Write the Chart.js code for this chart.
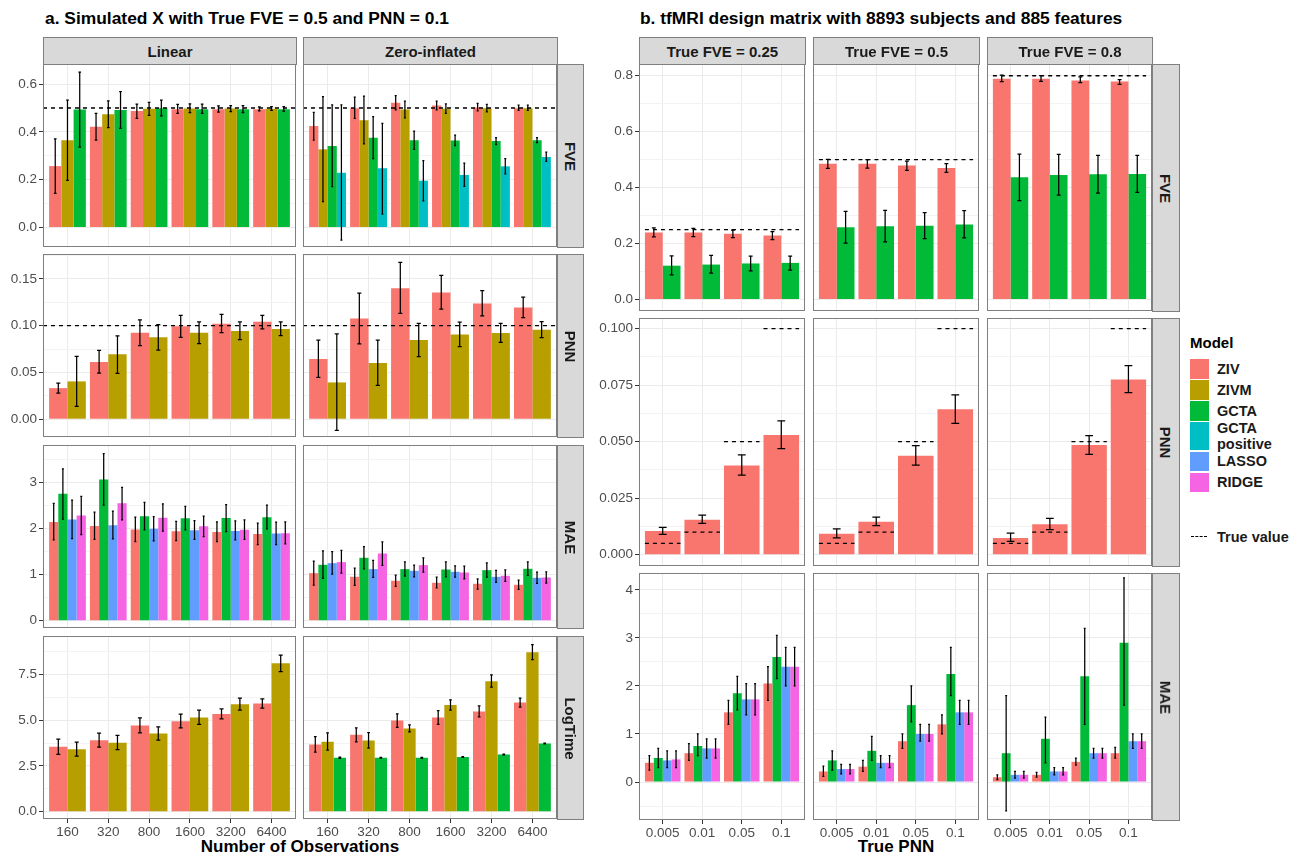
<!DOCTYPE html>
<html>
<head>
<meta charset="utf-8">
<script src="https://cdn.jsdelivr.net/npm/chart.js@4.4.1/dist/chart.umd.min.js"></script>
<style>
body{margin:0;background:#fff;width:1290px;height:856px;position:relative;overflow:hidden;font-family:"Liberation Sans",Arial,Helvetica,sans-serif;}
.abs{position:absolute;white-space:nowrap;}
canvas{position:absolute;}
.strip{position:absolute;background:#d9d9d9;border:1px solid #7f7f7f;box-sizing:border-box;font-weight:bold;font-size:15px;color:#1a1a1a;display:flex;align-items:center;justify-content:center;}
.strip span{white-space:nowrap;}
.rot span{transform:rotate(90deg);}
.title{font-weight:bold;font-size:17.4px;color:#000;}
.axtitle{font-weight:bold;font-size:17px;color:#000;transform:translateX(-50%);}
.key{position:absolute;left:1190px;width:19px;}
.keytxt{position:absolute;left:1217px;font-weight:bold;font-size:14.5px;color:#1a1a1a;line-height:16px;}
</style>
</head>
<body>
<div class="abs title" style="left:45px;top:8px">a. Simulated X with True FVE = 0.5 and PNN = 0.1</div>
<div class="abs title" style="left:640px;top:8px">b. tfMRI design matrix with 8893 subjects and 885 features</div>
<div class="abs axtitle" style="left:300px;top:837px">Number of Observations</div>
<div class="abs axtitle" style="left:896px;top:837px">True PNN</div>
<div id="legend"></div>
<script>
const models = ["ZIV", "ZIVM", "GCTA", "GCTA positive", "LASSO", "RIDGE"];
const modelColors = ["#F8766D", "#B79F00", "#00BA38", "#00BFC4", "#619CFF", "#F564E3"];
const nObs = ["160", "320", "800", "1600", "3200", "6400"];
const truePNN = ["0.005", "0.01", "0.05", "0.1"];
const truePNNvals = [0.005, 0.01, 0.05, 0.1];
const aTrueFVE = 0.5, aTruePNN = 0.1;
const bTrueFVE = [0.25, 0.5, 0.8];
const bFVElabels = ["True FVE = 0.25", "True FVE = 0.5", "True FVE = 0.8"];
const aColLabels = ["Linear", "Zero-inflated"];
const aRowLabels = ["FVE", "PNN", "MAE", "LogTime"];
const bRowLabels = ["FVE", "PNN", "MAE"];

// tick labels (major) per row
const aTicksFVE = [0, 0.2, 0.4, 0.6];
const aTicksPNN = [0, 0.05, 0.10, 0.15];
const aTicksMAE = [0, 1, 2, 3];
const aTicksTime = [0, 2.5, 5, 7.5];
const bTicksFVE = [0, 0.2, 0.4, 0.6, 0.8];
const bTicksPNN = [0, 0.025, 0.05, 0.075, 0.1];
const bTicksMAE = [0, 1, 2, 3, 4];

// each entry: [estimate, lower, upper]
// a. FVE
const linFVE_ZIV  = [[0.257,0.143,0.371],[0.422,0.366,0.478],[0.487,0.457,0.516],[0.495,0.478,0.515],[0.495,0.483,0.509],[0.495,0.488,0.505]];
const linFVE_ZIVM = [[0.365,0.197,0.533],[0.474,0.418,0.530],[0.497,0.469,0.523],[0.498,0.481,0.517],[0.498,0.485,0.510],[0.497,0.490,0.506]];
const linFVE_GCTA = [[0.494,0.336,0.650],[0.492,0.415,0.568],[0.499,0.467,0.533],[0.495,0.478,0.516],[0.495,0.481,0.510],[0.495,0.487,0.506]];
const ziFVE_ZIV   = [[0.425,0.366,0.482],[0.499,0.457,0.545],[0.522,0.492,0.552],[0.510,0.492,0.529],[0.502,0.488,0.519],[0.499,0.490,0.512]];
const ziFVE_ZIVM  = [[0.327,0.108,0.548],[0.449,0.350,0.550],[0.494,0.459,0.529],[0.497,0.478,0.517],[0.499,0.484,0.515],[0.499,0.490,0.512]];
const ziFVE_GCTA  = [[0.341,0.171,0.513],[0.376,0.288,0.464],[0.365,0.327,0.403],[0.364,0.343,0.386],[0.362,0.347,0.376],[0.365,0.355,0.376]];
const ziFVE_GCTAP = [[0.229,-0.053,0.513],[0.248,0.056,0.436],[0.196,0.112,0.280],[0.220,0.172,0.269],[0.256,0.224,0.288],[0.295,0.277,0.315]];
// a. PNN
const linPNN_ZIV  = [[0.0332,0.0279,0.0386],[0.0611,0.0493,0.0736],[0.0925,0.0786,0.106],[0.0993,0.0875,0.111],[0.102,0.0925,0.112],[0.104,0.0964,0.111]];
const linPNN_ZIVM = [[0.0404,0.0136,0.0671],[0.0693,0.0489,0.0889],[0.0875,0.0739,0.101],[0.0925,0.0807,0.104],[0.0943,0.085,0.104],[0.0964,0.0893,0.104]];
const ziPNN_ZIV   = [[0.0643,0.0446,0.0846],[0.1075,0.0804,0.1346],[0.140,0.1132,0.1675],[0.1354,0.1175,0.1536],[0.1236,0.1104,0.1375],[0.1193,0.1086,0.1304]];
const ziPNN_ZIVM  = [[0.0393,-0.0118,0.0911],[0.060,0.0361,0.0846],[0.0846,0.0668,0.1025],[0.0904,0.0775,0.1036],[0.0921,0.0821,0.1025],[0.0957,0.0871,0.1043]];
// a. MAE
const linMAE_ZIV   = [[2.147,1.757,2.55],[2.06,1.77,2.357],[1.98,1.72,2.25],[1.945,1.743,2.16],[1.93,1.72,2.147],[1.887,1.656,2.12]];
const linMAE_GCTA  = [[2.76,2.21,3.30],[3.066,2.509,3.63],[2.27,1.974,2.574],[2.227,1.974,2.487],[2.234,1.938,2.52],[2.249,1.996,2.51]];
const linMAE_LASSO = [[2.20,1.786,2.62],[2.075,1.779,2.38],[1.996,1.735,2.263],[1.967,1.77,2.176],[1.952,1.757,2.17],[1.894,1.656,2.14]];
const linMAE_RIDGE = [[2.285,1.873,2.70],[2.55,2.19,2.90],[2.24,1.945,2.538],[2.053,1.829,2.27],[1.974,1.77,2.19],[1.90,1.67,2.147]];
const ziMAE_ZIV    = [[1.034,0.774,1.294],[0.954,0.766,1.142],[0.868,0.745,0.99],[0.824,0.716,0.947],[0.803,0.687,0.911],[0.781,0.68,0.882]];
const ziMAE_GCTA   = [[1.215,0.918,1.518],[1.367,1.128,1.612],[1.121,0.969,1.28],[1.113,0.954,1.28],[1.099,0.947,1.258],[1.128,0.983,1.28]];
const ziMAE_LASSO  = [[1.251,1.012,1.504],[1.121,0.94,1.309],[1.085,0.954,1.208],[1.063,0.947,1.193],[0.954,0.832,1.092],[0.933,0.81,1.056]];
const ziMAE_RIDGE  = [[1.273,1.034,1.526],[1.461,1.20,1.714],[1.208,1.056,1.367],[1.048,0.911,1.186],[0.976,0.853,1.106],[0.94,0.817,1.063]];
// a. LogTime
const linTime_ZIV  = [[3.55,3.13,3.97],[3.91,3.53,4.30],[4.72,4.31,5.13],[4.95,4.59,5.33],[5.35,5.08,5.63],[5.92,5.66,6.17]];
const linTime_ZIVM = [[3.42,3.04,3.80],[3.77,3.39,4.17],[4.28,3.91,4.64],[5.15,4.77,5.55],[5.88,5.55,6.21],[8.12,7.66,8.57]];
const ziTime_ZIV   = [[3.68,3.26,4.11],[4.21,3.82,4.59],[4.99,4.61,5.35],[5.15,4.77,5.53],[5.48,5.19,5.79],[5.97,5.72,6.21]];
const ziTime_ZIVM  = [[3.82,3.37,4.31],[3.90,3.48,4.33],[4.55,4.37,4.75],[5.83,5.55,6.12],[7.14,6.81,7.48],[8.72,8.32,9.14]];
const ziTime_GCTA  = [[2.95,2.91,2.98],[2.95,2.93,2.97],[2.95,2.93,2.97],[2.99,2.97,3.01],[3.13,3.11,3.15],[3.73,3.71,3.75]];
// b. FVE
const bFVE025_ZIV  = [[0.240,0.224,0.256],[0.240,0.225,0.254],[0.235,0.221,0.248],[0.229,0.214,0.243]];
const bFVE025_GCTA = [[0.121,0.088,0.156],[0.125,0.094,0.158],[0.129,0.102,0.155],[0.131,0.105,0.155]];
const bFVE05_ZIV   = [[0.485,0.469,0.501],[0.485,0.470,0.500],[0.479,0.462,0.495],[0.470,0.455,0.486]];
const bFVE05_GCTA  = [[0.258,0.202,0.315],[0.262,0.206,0.319],[0.264,0.218,0.311],[0.268,0.220,0.318]];
const bFVE08_ZIV   = [[0.789,0.779,0.802],[0.789,0.780,0.800],[0.783,0.775,0.796],[0.779,0.769,0.786]];
const bFVE08_GCTA  = [[0.437,0.354,0.520],[0.445,0.373,0.519],[0.448,0.380,0.515],[0.449,0.383,0.515]];
// b. PNN
const bPNN025_ZIV = [[0.0105,0.009,0.0121],[0.0155,0.0138,0.0175],[0.0395,0.0352,0.0441],[0.053,0.0469,0.0592]];
const bPNN05_ZIV  = [[0.0093,0.0074,0.0114],[0.0146,0.0129,0.0166],[0.0438,0.0396,0.0482],[0.0643,0.0581,0.0707]];
const bPNN08_ZIV  = [[0.0074,0.0059,0.0095],[0.0135,0.0111,0.0161],[0.0485,0.0444,0.0527],[0.0775,0.0717,0.0836]];
// b. MAE
const bMAE025_ZIV   = [[0.40,0.25,0.55],[0.60,0.45,0.80],[1.45,1.20,1.70],[2.05,1.70,2.40]];
const bMAE025_GCTA  = [[0.50,0.30,0.70],[0.75,0.55,1.00],[1.85,1.50,2.20],[2.60,2.15,3.05]];
const bMAE025_LASSO = [[0.45,0.30,0.65],[0.70,0.50,0.90],[1.72,1.40,2.05],[2.40,2.00,2.80]];
const bMAE025_RIDGE = [[0.47,0.30,0.65],[0.70,0.50,0.90],[1.72,1.40,2.05],[2.40,2.00,2.80]];
const bMAE05_ZIV    = [[0.22,0.12,0.33],[0.32,0.22,0.45],[0.85,0.70,1.00],[1.20,1.00,1.40]];
const bMAE05_GCTA   = [[0.45,0.25,0.65],[0.65,0.45,0.95],[1.60,1.25,2.00],[2.25,1.80,2.80]];
const bMAE05_LASSO  = [[0.27,0.17,0.37],[0.40,0.30,0.55],[1.00,0.85,1.20],[1.45,1.20,1.70]];
const bMAE05_RIDGE  = [[0.27,0.17,0.37],[0.40,0.30,0.55],[1.00,0.85,1.20],[1.45,1.20,1.70]];
const bMAE08_ZIV    = [[0.10,0.05,0.15],[0.15,0.10,0.20],[0.42,0.35,0.50],[0.60,0.50,0.72]];
const bMAE08_GCTA   = [[0.60,-0.60,1.80],[0.90,0.40,1.35],[2.20,1.20,3.20],[2.90,1.60,4.25]];
const bMAE08_LASSO  = [[0.15,0.08,0.22],[0.22,0.15,0.30],[0.60,0.50,0.70],[0.85,0.70,1.00]];
const bMAE08_RIDGE  = [[0.15,0.08,0.22],[0.22,0.15,0.30],[0.60,0.50,0.70],[0.85,0.70,1.00]];

const FONT = '"Liberation Sans", Arial, Helvetica, sans-serif';
Chart.defaults.font.family = FONT;

// panel geometry
const aCols = [[43, 296], [303, 557]];
const aRows = [[64, 247], [254, 437], [445, 628], [636, 819]];
const bCols = [[639, 805], [813, 979], [987, 1152]];
const bRows = [[64, 311], [318, 566], [573, 820]];

const aRowAxis = [
  {yMin: -0.0814, yMax: 0.684, major: aTicksFVE, dec: 1},
  {yMin: -0.019, yMax: 0.1765, major: aTicksPNN, dec: 2},
  {yMin: -0.158, yMax: 3.818, major: aTicksMAE, dec: 0},
  {yMin: -0.40, yMax: 9.61, major: aTicksTime, dec: 1}
];
const bRowAxis = [
  {yMin: -0.041, yMax: 0.842, major: bTicksFVE, dec: 1},
  {yMin: -0.005, yMax: 0.1047, major: bTicksPNN, dec: 3},
  {yMin: -0.79, yMax: 4.35, major: bTicksMAE, dec: 0}
];

const aSeries = [
  [[["ZIV", linFVE_ZIV], ["ZIVM", linFVE_ZIVM], ["GCTA", linFVE_GCTA]],
   [["ZIV", ziFVE_ZIV], ["ZIVM", ziFVE_ZIVM], ["GCTA", ziFVE_GCTA], ["GCTA positive", ziFVE_GCTAP]]],
  [[["ZIV", linPNN_ZIV], ["ZIVM", linPNN_ZIVM]],
   [["ZIV", ziPNN_ZIV], ["ZIVM", ziPNN_ZIVM]]],
  [[["ZIV", linMAE_ZIV], ["GCTA", linMAE_GCTA], ["LASSO", linMAE_LASSO], ["RIDGE", linMAE_RIDGE]],
   [["ZIV", ziMAE_ZIV], ["GCTA", ziMAE_GCTA], ["LASSO", ziMAE_LASSO], ["RIDGE", ziMAE_RIDGE]]],
  [[["ZIV", linTime_ZIV], ["ZIVM", linTime_ZIVM]],
   [["ZIV", ziTime_ZIV], ["ZIVM", ziTime_ZIVM], ["GCTA", ziTime_GCTA]]]
];
const bSeries = [
  [[["ZIV", bFVE025_ZIV], ["GCTA", bFVE025_GCTA]], [["ZIV", bFVE05_ZIV], ["GCTA", bFVE05_GCTA]], [["ZIV", bFVE08_ZIV], ["GCTA", bFVE08_GCTA]]],
  [[["ZIV", bPNN025_ZIV]], [["ZIV", bPNN05_ZIV]], [["ZIV", bPNN08_ZIV]]],
  [[["ZIV", bMAE025_ZIV], ["GCTA", bMAE025_GCTA], ["LASSO", bMAE025_LASSO], ["RIDGE", bMAE025_RIDGE]],
   [["ZIV", bMAE05_ZIV], ["GCTA", bMAE05_GCTA], ["LASSO", bMAE05_LASSO], ["RIDGE", bMAE05_RIDGE]],
   [["ZIV", bMAE08_ZIV], ["GCTA", bMAE08_GCTA], ["LASSO", bMAE08_LASSO], ["RIDGE", bMAE08_RIDGE]]]
];

const errorBars = {
  id: 'errorBars',
  afterDatasetsDraw(chart) {
    const ctx = chart.ctx, ys = chart.scales.y, a = chart.chartArea;
    ctx.save();
    ctx.beginPath();
    ctx.rect(a.left, a.top, a.right - a.left, a.bottom - a.top);
    ctx.clip();
    ctx.strokeStyle = '#000';
    ctx.lineWidth = 1.25;
    chart.data.datasets.forEach((ds, i) => {
      if (!ds.err) return;
      chart.getDatasetMeta(i).data.forEach((bar, j) => {
        const lo = ys.getPixelForValue(ds.err[j][0]);
        const hi = ys.getPixelForValue(ds.err[j][1]);
        const w = bar.width * 0.11;
        ctx.beginPath();
        ctx.moveTo(bar.x, lo); ctx.lineTo(bar.x, hi);
        ctx.moveTo(bar.x - w, lo); ctx.lineTo(bar.x + w, lo);
        ctx.moveTo(bar.x - w, hi); ctx.lineTo(bar.x + w, hi);
        ctx.stroke();
      });
    });
    ctx.restore();
  }
};

const panelBorder = {
  id: 'panelBorder',
  afterDraw(chart) {
    const a = chart.chartArea, c = chart.ctx;
    c.save();
    c.strokeStyle = '#7f7f7f';
    c.lineWidth = 1;
    c.strokeRect(a.left + 0.5, a.top + 0.5, a.right - a.left - 1, a.bottom - a.top - 1);
    c.restore();
  }
};

function yTicks(ax) {
  const t = ax.major.map(v => ({value: v}));
  const step = ax.major[1] - ax.major[0];
  for (let k = -1; k < ax.major.length; k++) {
    const v = ax.major[0] + (k + 0.5) * step;
    if (v > ax.yMin && v < ax.yMax) t.push({value: v, minor: true});
  }
  return t.sort((p, q) => p.value - q.value);
}

function drawFacet(f) {
  const L = f.left ? 44 : 0, B = f.bottom ? 24 : 0;
  const W = f.x1 - f.x0 + L, H = f.y1 - f.y0 + B;
  const cv = document.createElement('canvas');
  cv.width = W; cv.height = H;
  cv.style.left = (f.x0 - L) + 'px';
  cv.style.top = f.y0 + 'px';
  cv.style.width = W + 'px';
  cv.style.height = H + 'px';
  document.body.appendChild(cv);

  const datasets = f.series.map(([name, vals]) => ({
    type: 'bar',
    label: name,
    data: vals.map((v, i) => ({x: i, y: v[0]})),
    err: vals.map(v => [v[1], v[2]]),
    backgroundColor: modelColors[models.indexOf(name)],
    borderWidth: 0,
    barPercentage: 1,
    categoryPercentage: 0.9,
    order: 1
  }));
  if (f.truth) {
    datasets.push({
      type: 'line',
      label: 'True value',
      data: f.truth,
      borderColor: '#000',
      borderWidth: 1.3,
      borderDash: [4, 4],
      pointRadius: 0,
      fill: false,
      spanGaps: false,
      order: 0
    });
  }
  const ax = f.axis;
  const tickFont = {family: FONT, size: 13.5};
  new Chart(cv, {
    type: 'bar',
    data: {datasets},
    plugins: [errorBars, panelBorder],
    options: {
      responsive: false,
      animation: false,
      devicePixelRatio: 1,
      events: [],
      layout: {padding: 0},
      plugins: {legend: {display: false}, tooltip: {enabled: false}},
      scales: {
        x: {
          type: 'linear',
          offset: false,
          min: -0.6,
          max: f.cats.length - 0.4,
          bounds: 'data',
          afterBuildTicks: s => { s.ticks = f.cats.map((c, i) => ({value: i})); },
          afterFit: s => { s.height = B; s.paddingLeft = 0; s.paddingRight = 0; },
          ticks: {display: f.bottom, autoSkip: false, maxRotation: 0, padding: 1,
                  color: '#4d4d4d', font: tickFont, callback: (v, i) => f.cats[i]},
          grid: {offset: false, color: '#ebebeb', lineWidth: 1, drawTicks: f.bottom, tickLength: 4, tickColor: '#333'},
          border: {display: false}
        },
        y: {
          type: 'linear',
          min: ax.yMin,
          max: ax.yMax,
          bounds: 'data',
          afterBuildTicks: s => { s.ticks = yTicks(ax); },
          afterFit: s => { s.width = L; s.paddingTop = 0; s.paddingBottom = 0; },
          ticks: {display: f.left, autoSkip: false, padding: 2, color: '#4d4d4d', font: tickFont,
                  callback: (v, i, t) => t[i].minor ? '' : v.toFixed(ax.dec)},
          grid: {
            color: c => (c.tick && c.tick.minor) ? '#f3f3f3' : '#ebebeb',
            lineWidth: 1,
            drawTicks: f.left,
            tickLength: 4,
            tickColor: c => (c.tick && c.tick.minor) ? 'rgba(0,0,0,0)' : '#333'
          },
          border: {display: false}
        }
      }
    }
  });
}

function hline(v, n) {
  return [{x: -0.6, y: v}, {x: n - 0.4, y: v}];
}
function segments(vals) {
  const out = [];
  vals.forEach((v, i) => {
    out.push({x: i - 0.45, y: v}, {x: i + 0.45, y: v}, {x: i + 0.5, y: null});
  });
  return out;
}

// a. panels
aRows.forEach((r, ri) => {
  aCols.forEach((c, ci) => {
    let truth = null;
    if (ri === 0) truth = hline(aTrueFVE, nObs.length);
    if (ri === 1) truth = hline(aTruePNN, nObs.length);
    drawFacet({x0: c[0], x1: c[1], y0: r[0], y1: r[1], cats: nObs, axis: aRowAxis[ri],
               series: aSeries[ri][ci], left: ci === 0, bottom: ri === aRows.length - 1, truth});
  });
});
// b. panels
bRows.forEach((r, ri) => {
  bCols.forEach((c, ci) => {
    let truth = null;
    if (ri === 0) truth = segments(truePNN.map(() => bTrueFVE[ci]));
    if (ri === 1) truth = segments(truePNNvals);
    drawFacet({x0: c[0], x1: c[1], y0: r[0], y1: r[1], cats: truePNN, axis: bRowAxis[ri],
               series: bSeries[ri][ci], left: ci === 0, bottom: ri === bRows.length - 1, truth});
  });
});

// strips
function strip(x0, x1, y0, y1, text, rot) {
  const d = document.createElement('div');
  d.className = 'strip' + (rot ? ' rot' : '');
  d.style.left = x0 + 'px'; d.style.top = y0 + 'px';
  d.style.width = (x1 - x0 + 1) + 'px'; d.style.height = (y1 - y0 + 1) + 'px';
  const s = document.createElement('span');
  s.textContent = text;
  d.appendChild(s);
  document.body.appendChild(d);
}
aCols.forEach((c, i) => strip(c[0], c[1], 37, 64, aColLabels[i], false));
aRows.forEach((r, i) => strip(557, 583, r[0], r[1], aRowLabels[i], true));
bCols.forEach((c, i) => strip(c[0], c[1], 37, 64, bFVElabels[i], false));
bRows.forEach((r, i) => strip(1152, 1179, r[0], r[1], bRowLabels[i], true));

// legend
const lg = document.getElementById('legend');
let html = '<div class="abs" style="left:1190px;top:334px;font-weight:bold;font-size:15px;color:#000">Model</div>';
let ky = 359;
models.forEach((m, i) => {
  const h = m === 'GCTA positive' ? 28 : 19.5;
  html += `<div class="key" style="top:${ky}px;height:${h}px;background:${modelColors[i]}"></div>`;
  const label = m === 'GCTA positive' ? 'GCTA<br>positive' : m;
  const ty = ky + h / 2 - (m === 'GCTA positive' ? 16 : 8);
  html += `<div class="keytxt" style="top:${ty}px">${label}</div>`;
  ky += h + 1.5;
});
html += '<div class="abs" style="left:1191px;top:536px;width:16px;height:0;border-top:1.3px dashed #000"></div>';
html += '<div class="keytxt" style="top:529px">True value</div>';
lg.innerHTML = html;
</script>
</body>
</html>
